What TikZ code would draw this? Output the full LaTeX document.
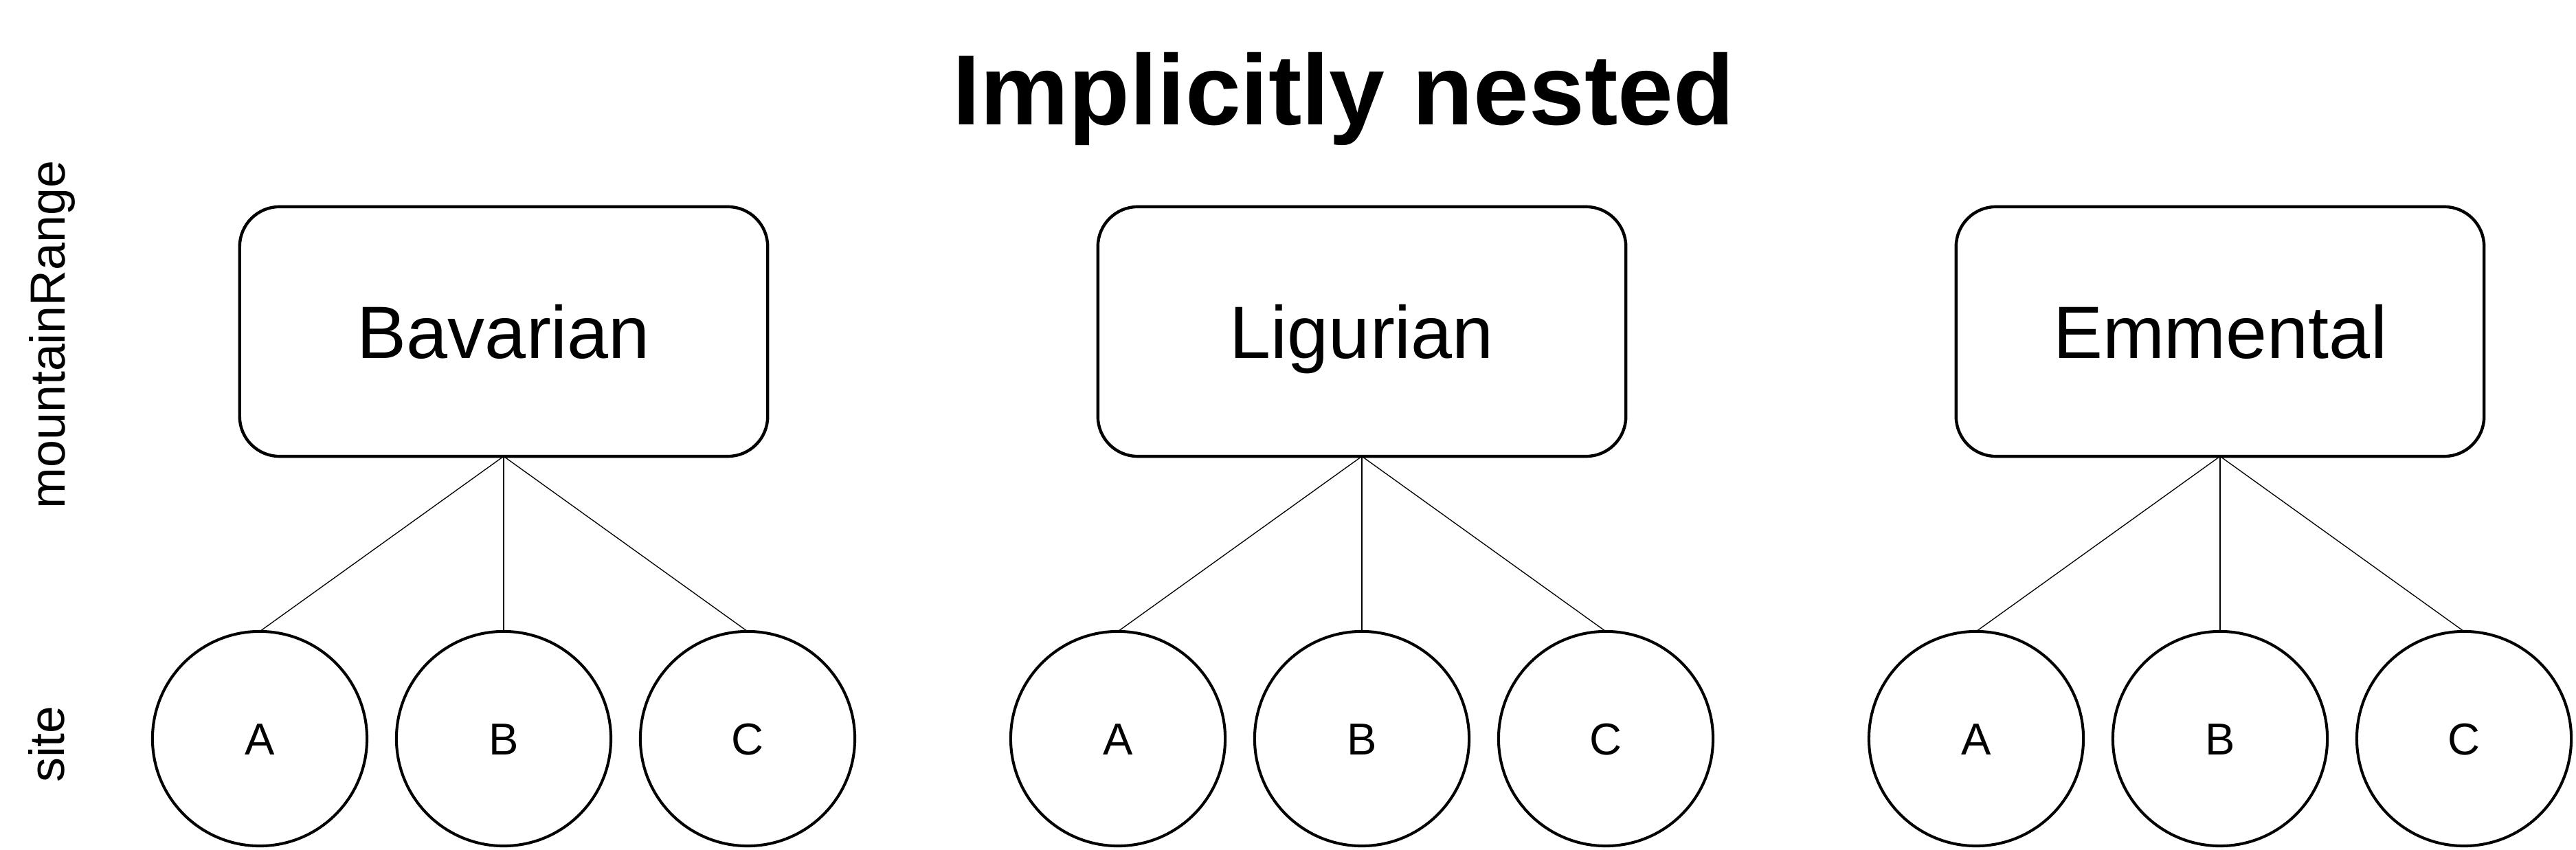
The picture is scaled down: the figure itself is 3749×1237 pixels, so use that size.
\documentclass[tikz,border=0pt]{standalone}
\usepackage{fontspec}
\setmainfont{Liberation Sans}
\begin{document}
\begin{tikzpicture}[x=0.01cm,y=-0.01cm,
  rangebox/.style={draw, line width=1.25pt, rounded corners=0.58cm,
    minimum width=7.68cm, minimum height=3.63cm, inner sep=0pt, outer sep=0pt,
    font=\fontsize{30.7pt}{36pt}\selectfont, text height=22pt, text depth=0pt},
  sitecircle/.style={draw, circle, line width=1.15pt, minimum size=3.12cm,
    inner sep=0pt, outer sep=0pt,
    font=\fontsize{18.5pt}{22pt}\selectfont, text height=13.25pt, text depth=0pt},
  link/.style={line width=0.38pt},
  titlestyle/.style={anchor=base, inner sep=0pt, font=\fontsize{41.3pt}{48pt}\selectfont\bfseries},
  levellabel/.style={rotate=90, anchor=base, inner sep=0pt, font=\fontsize{20.4pt}{24pt}\selectfont}]
\useasboundingbox (0,0) rectangle (3749,1237);
\node[titlestyle] (title) at (1955,182) {Implicitly nested};
\node[levellabel] (lblrange) at (94,487) {mountainRange};
\node[levellabel] (lblsite) at (93,1083) {site};
\foreach \name/\cx in {Bavarian/733, Ligurian/1982, Emmental/3231}{
  \node[rangebox] (\name) at (\cx,482.5) {\name};
  \node[sitecircle] (\name A) at (\cx-355,1075) {A};
  \node[sitecircle] (\name B) at (\cx,1075) {B};
  \node[sitecircle] (\name C) at (\cx+355,1075) {C};
  \draw[link] (\name.south) -- (\name A.north);
  \draw[link] (\name.south) -- (\name B.north);
  \draw[link] (\name.south) -- (\name C.north);
}
\end{tikzpicture}
\end{document}
